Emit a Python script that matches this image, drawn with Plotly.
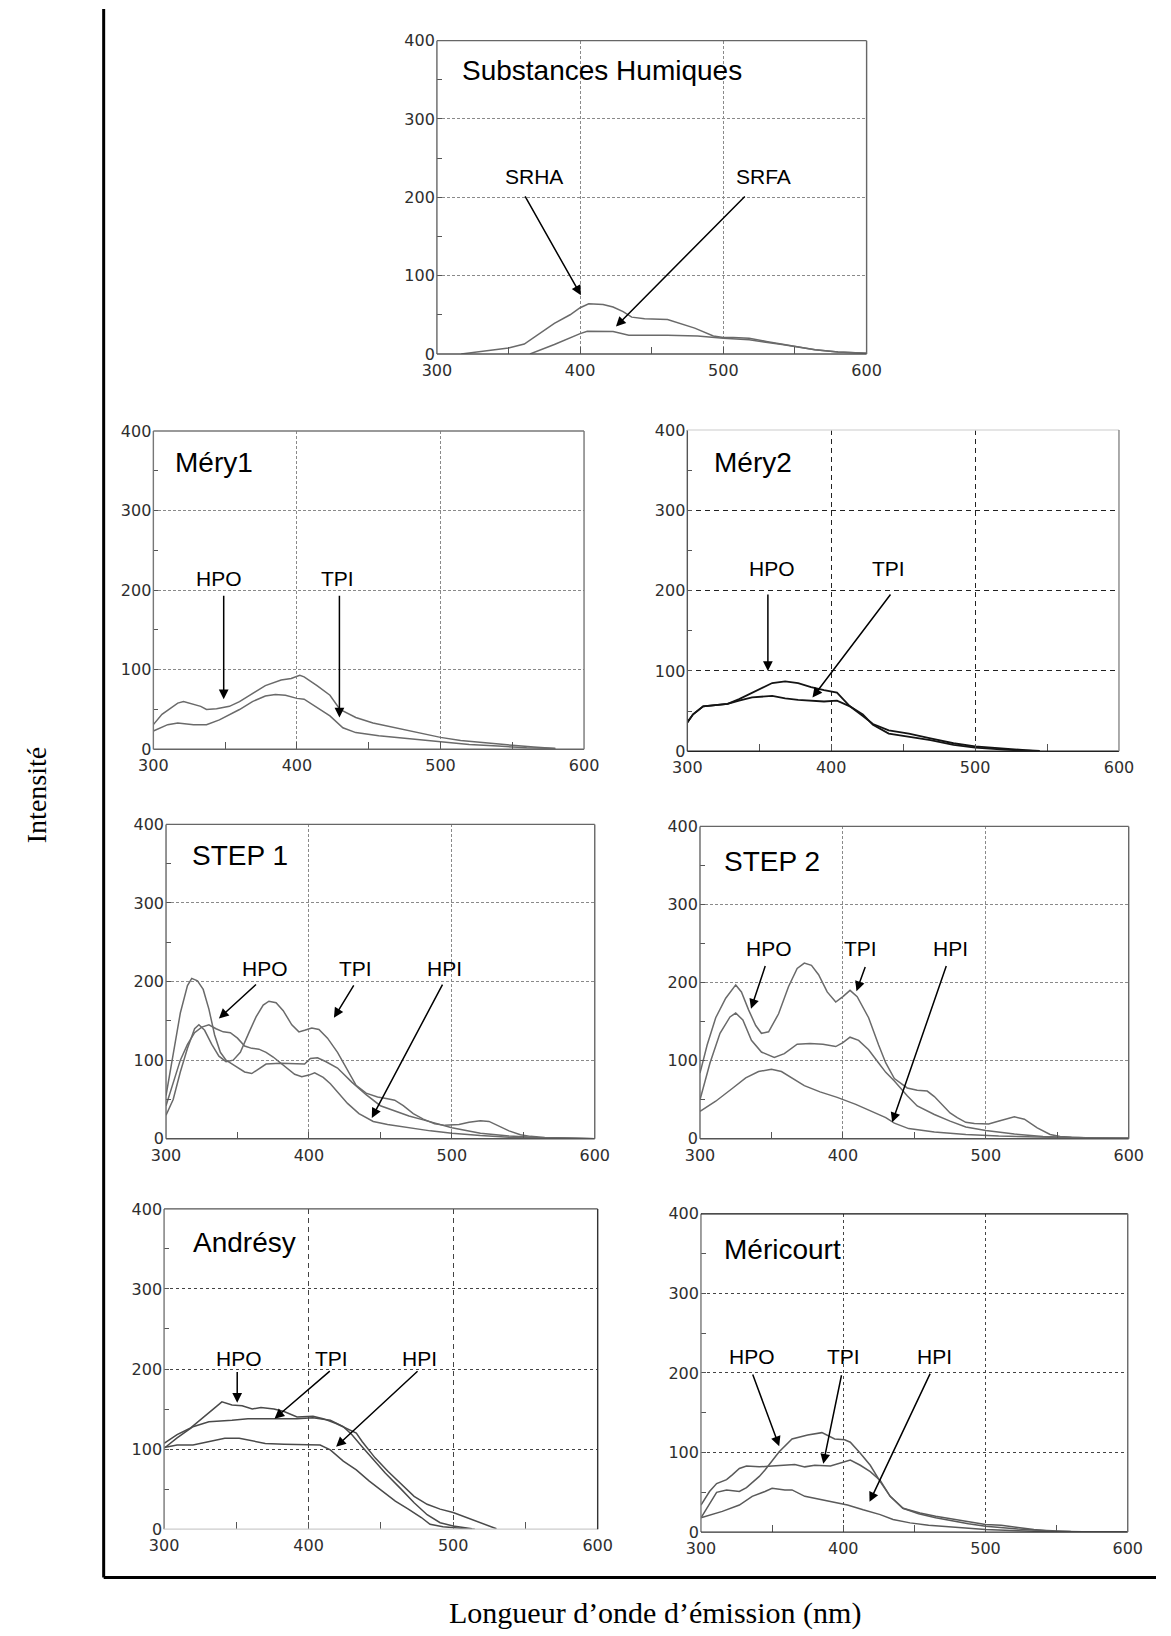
import plotly.graph_objects as go

W, H = 1171, 1636

# ---------------- DATA ----------------
# Substances Humiques
wl_sh_srha = [317, 330, 350, 361, 370, 382, 393, 400, 406, 416, 423, 430, 436, 445, 461, 470, 480, 493, 500, 507, 518, 530, 548, 564, 580, 600]
in_sh_srha = [0, 3, 7.5, 12.6, 24, 39, 50, 59, 64, 63, 60, 54, 47, 45, 44, 39, 33, 23, 21, 21, 20, 16, 10, 5.5, 2.5, 1]
wl_sh_srfa = [365, 382, 400, 405, 423, 434, 461, 482, 500, 518, 541, 564, 580, 600]
in_sh_srfa = [0, 12, 26, 29, 28.5, 24, 24, 23, 20, 18, 12, 5.5, 2.5, 1]

# Méry1
wl_m1_hpo = [300, 306, 317, 321, 333, 337, 344, 353, 360, 367, 378, 389, 396, 402, 405, 414, 423, 430, 441, 453, 469, 491, 500, 514, 530, 550, 565, 580]
in_m1_hpo = [31, 44, 58, 60, 54, 50, 51, 54, 60, 68, 80, 87, 89, 93, 91, 80, 68, 50, 40, 33, 27, 19, 15, 11, 8, 5, 3, 1]
wl_m1_tpi = [300, 310, 317, 328, 337, 346, 360, 369, 378, 385, 392, 400, 405, 414, 423, 432, 441, 457, 480, 500, 520, 540, 560, 580]
in_m1_tpi = [23, 31, 33, 31, 31, 37, 50, 60, 67, 69, 68, 64, 63, 52, 42, 27, 21, 17, 13, 9, 6, 4, 2, 1]

# Méry2
wl_m2_hpo = [300, 304, 311, 320, 328, 336, 345, 359, 368, 377, 386, 395, 404, 413, 422, 429, 440, 454, 469, 485, 500, 520, 535, 545]
in_m2_hpo = [36, 46, 56, 58, 59, 65, 73, 85, 87, 85, 80, 76, 73, 56, 44, 34, 26, 22, 16, 10, 6, 3, 1.5, 0.5]
wl_m2_tpi = [300, 304, 311, 320, 328, 336, 345, 359, 368, 377, 386, 395, 404, 413, 422, 429, 440, 454, 469, 485, 500, 520, 540]
in_m2_tpi = [36, 46, 56, 58, 59, 63, 67, 69, 66, 64, 63, 62, 63, 56, 46, 33, 22, 18, 14, 8, 4.5, 2, 0.5]

# STEP 1
wl_s1_hpo = [300, 305, 310, 315, 318, 322, 326, 330, 334, 338, 342, 348, 355, 360, 365, 370, 380, 390, 397, 401, 406, 412, 420, 430, 440, 450, 460, 470, 480, 490, 500, 520, 540, 560, 580, 600]
in_s1_hpo = [55, 105, 160, 195, 204, 201, 190, 165, 132, 110, 100, 93, 85, 83, 89, 95, 96, 95, 95, 102, 103, 98, 90, 72, 56, 42, 35, 29, 24, 19, 14, 7, 3.5, 1.5, 0.5, 0]
wl_s1_tpi = [300, 305, 310, 315, 320, 323, 327, 332, 337, 342, 347, 352, 358, 363, 368, 372, 377, 382, 388, 393, 397, 402, 407, 413, 420, 427, 433, 440, 448, 455, 460, 466, 473, 480, 488, 495, 505, 512, 520, 526, 532, 540, 548, 555, 565, 580, 600]
in_s1_tpi = [30, 50, 85, 115, 140, 145, 138, 120, 105, 98, 100, 110, 135, 155, 170, 175, 173, 163, 145, 136, 138, 141, 139, 128, 110, 88, 68, 58, 53, 51, 49, 42, 32, 25, 19, 17, 18, 21, 23, 22, 17, 10, 5, 3, 1.5, 0.5, 0]
wl_s1_hpi = [300, 305, 310, 315, 320, 325, 330, 335, 340, 345, 350, 355, 360, 365, 370, 375, 380, 385, 390, 395, 400, 404, 410, 415, 420, 427, 435, 445, 455, 470, 485, 500, 520, 540, 560, 600]
in_s1_hpi = [42, 70, 100, 120, 135, 142, 145, 140, 136, 135, 128, 118, 115, 114, 110, 104, 97, 90, 82, 79, 81, 84, 78, 70, 60, 45, 32, 22, 18, 14, 10, 7, 4, 2, 1, 0]

# STEP 2
wl_s2_hpo = [300, 305, 311, 318, 325, 329, 334, 339, 343, 348, 355, 362, 368, 373, 378, 383, 389, 395, 400, 405, 410, 418, 425, 430, 436, 445, 452, 459, 464, 470, 475, 480, 486, 492, 498, 502, 508, 514, 520, 527, 532, 536, 545, 552, 560, 575, 600]
in_s2_hpo = [84, 120, 155, 180, 197, 188, 165, 145, 135, 137, 160, 195, 218, 225, 222, 210, 188, 175, 182, 190, 182, 155, 120, 97, 77, 65, 62, 61, 54, 42, 33, 27, 21, 19.5, 19, 19, 22, 25, 28, 25, 19, 14, 5.5, 3, 2, 1, 0.5]
wl_s2_tpi = [300, 307, 314, 321, 325, 330, 336, 343, 352, 359, 368, 377, 386, 395, 400, 405, 411, 418, 425, 430, 436, 445, 452, 464, 475, 486, 500, 520, 540, 560, 580, 600]
in_s2_tpi = [50, 97, 135, 156, 161, 152, 126, 111, 104, 109, 121, 122, 121, 118, 123, 130, 126, 114, 97, 85, 74, 55, 42, 31, 22.5, 15, 10.6, 6, 3, 1.5, 0.5, 0]
wl_s2_hpi = [300, 311, 323, 332, 341, 350, 357, 366, 373, 384, 396, 409, 418, 430, 436, 446, 464, 486, 509, 532, 560, 600]
in_s2_hpi = [35, 48, 65, 78, 86, 89, 86, 76, 68, 60, 53, 44, 37, 27, 20, 13, 8.5, 5.5, 3.4, 2, 1.2, 0.8]

# Andrésy
wl_an_hpo = [300, 309, 318, 325, 334, 340, 347, 354, 361, 367, 376, 383, 392, 403, 410, 419, 428, 433, 437, 446, 455, 464, 473, 482, 491, 500, 509, 518, 530]
in_an_hpo = [107, 118, 126, 136, 150, 159, 155, 154, 150, 152, 150, 147, 140, 141, 138, 132, 124, 120, 109.5, 89, 72, 56, 41, 31, 25, 20.7, 14.5, 9, 0.5]
wl_an_tpi = [300, 309, 320, 331, 347, 358, 376, 392, 403, 415, 424, 430, 437, 444, 453, 464, 473, 482, 491, 500, 513]
in_an_tpi = [101, 114, 128, 134, 136, 138, 138, 138, 139, 136, 128, 118, 103, 88, 70, 50, 33, 18, 8, 4, 0.5]
wl_an_hpi = [300, 309, 320, 331, 342, 352, 361, 370, 383, 399, 408, 415, 424, 433, 442, 451, 460, 469, 478, 484, 493, 505, 515]
in_an_hpi = [102, 105, 105, 109.5, 113.6, 113.6, 110, 107, 106, 105, 105, 99, 85, 74, 60, 47.5, 35, 25, 14.5, 6, 3, 1, 0]

# Méricourt
wl_mc_hpo = [300, 305, 311, 318, 323, 327, 332, 336, 341, 345, 355, 364, 370, 375, 385, 390, 394, 401, 405, 412, 419, 426, 433, 442, 454, 465, 477, 488, 500, 511, 523, 534, 546, 560, 580, 600]
in_mc_hpo = [18, 33, 50, 53, 52, 51, 56, 62, 70, 78, 101, 117, 120, 122, 125, 121, 117, 116, 113, 99, 84, 63.5, 45, 30, 24, 20, 16.6, 13, 9.5, 8.7, 5.4, 3.3, 1.2, 0.5, 0.2, 0]
wl_mc_tpi = [300, 306, 311, 318, 322, 327, 332, 341, 350, 359, 366, 373, 380, 391, 401, 405, 412, 419, 426, 433, 442, 453, 465, 476, 488, 500, 511, 523, 534, 546, 560, 580, 600]
in_mc_tpi = [34, 51, 61, 66, 72, 80, 83, 82, 83, 84, 85, 82, 84, 83, 88, 90.5, 84, 76, 65, 45, 30, 23, 18, 14, 10.5, 7.5, 5.5, 3.8, 2.5, 1.2, 0.6, 0.2, 0]
wl_mc_hpi = [300, 315, 327, 336, 345, 350, 359, 364, 373, 385, 396, 403, 414, 426, 435, 447, 460, 477, 500, 523, 546, 570, 600]
in_mc_hpi = [18, 26, 34, 45, 51, 55, 53, 53, 45, 40.6, 36.5, 34, 28, 22, 15.8, 11.6, 8.7, 6.2, 3.3, 1.7, 0.4, 0.2, 0]

x_ticks = [300, 400, 500, 600]
y_ticks = [0, 100, 200, 300, 400]
x_minor = [350, 450, 550]
y_minor = [50, 150, 250, 350]

# ---------------- LAYOUT / STYLE ----------------
FONT_SANS = "Arial, Liberation Sans, sans-serif"
FONT_SERIF = "Times New Roman, Liberation Serif, serif"
FONT_TICK = "DejaVu Sans, sans-serif"

# border colours: left, bottom, top, right
panels = [
    dict(px=(433, 874), py=(32, 349), title="Substances Humiques", tpos=(316, 362),
         curves=[(wl_sh_srha, in_sh_srha), (wl_sh_srfa, in_sh_srfa)],
         labels=[("SRHA", 368, 227, 361, 203, 400.5, 75), ("SRFA", 528, 227, 516, 203, 425, 35)],
         xdash="3px,2px", ydash="3px,2px", gcol="#8a8a8a", lcol="#6a6a6a", lw=1.5,
         border=("#666666", "#555555", "#666666", "#666666")),
    dict(px=(142, 584), py=(427, 749), title="Méry1", tpos=(314, 361),
         curves=[(wl_m1_hpo, in_m1_hpo), (wl_m1_tpi, in_m1_tpi)],
         labels=[("HPO", 346, 215, 349, 195, 349, 63), ("TPI", 428, 215, 429.6, 195, 429.6, 40)],
         xdash="3px,2px", ydash="3px,2px", gcol="#8a8a8a", lcol="#6a6a6a", lw=1.5,
         border=("#777777", "#666666", "#777777", "#777777")),
    dict(px=(690, 1133), py=(426, 751), title="Méry2", tpos=(317, 360),
         curves=[(wl_m2_hpo, in_m2_hpo), (wl_m2_tpi, in_m2_tpi)],
         labels=[("HPO", 359, 228, 356, 197, 356, 100), ("TPI", 440, 228, 442, 197, 387, 67)],
         xdash="5px,4px", ydash="5px,4px", gcol="#222222", lcol="#141414", lw=1.8,
         border=("#555555", "#222222", "#dddddd", "#888888")),
    dict(px=(155, 595), py=(825, 1143), title="STEP 1", tpos=(317, 360),
         curves=[(wl_s1_hpo, in_s1_hpo), (wl_s1_tpi, in_s1_tpi), (wl_s1_hpi, in_s1_hpi)],
         labels=[("HPO", 369, 216, 364, 198, 337, 153), ("TPI", 432.5, 216, 432, 197, 417.5, 154),
                 ("HPI", 495, 216, 494, 198, 444, 26.5)],
         xdash="3px,2px", ydash="3px,2px", gcol="#8a8a8a", lcol="#6a6a6a", lw=1.5,
         border=("#666666", "#555555", "#666666", "#666666")),
    dict(px=(703, 1143), py=(827, 1143), title="STEP 2", tpos=(315.5, 355),
         curves=[(wl_s2_hpo, in_s2_hpo), (wl_s2_tpi, in_s2_tpi), (wl_s2_hpi, in_s2_hpi)],
         labels=[("HPO", 348, 243, 346, 223, 335.7, 166.5), ("TPI", 412.5, 243, 416, 222, 409.5, 189),
                 ("HPI", 475.5, 243, 472.7, 223, 434.5, 21)],
         xdash="3px,2px", ydash="3px,2px", gcol="#8a8a8a", lcol="#6a6a6a", lw=1.5,
         border=("#666666", "#555555", "#666666", "#666666")),
    dict(px=(153, 598), py=(1214, 1538), title="Andrésy", tpos=(318.5, 358),
         curves=[(wl_an_hpo, in_an_hpo), (wl_an_tpi, in_an_tpi), (wl_an_hpi, in_an_hpi)],
         labels=[("HPO", 351.7, 213.6, 350.6, 198, 350.6, 158), ("TPI", 415.7, 213.6, 415.7, 199, 376.4, 138),
                 ("HPI", 477, 213.6, 476.4, 199, 419, 103)],
         xdash="5px,4px", ydash="3px,3px", gcol="#444444", lcol="#4a4a4a", lw=1.5,
         border=("#777777", "#cccccc", "#555555", "#333333")),
    dict(px=(704, 1142), py=(1219, 1541), title="Méricourt", tpos=(315, 355),
         curves=[(wl_mc_hpo, in_mc_hpo), (wl_mc_tpi, in_mc_tpi), (wl_mc_hpi, in_mc_hpi)],
         labels=[("HPO", 336, 221, 336, 200, 355, 108), ("TPI", 400, 221, 399, 199, 386, 86),
                 ("HPI", 464, 221, 461.6, 201, 418.5, 38)],
         xdash="3px,3px", ydash="3px,3px", gcol="#444444", lcol="#5a5a5a", lw=1.5,
         border=("#777777", "#333333", "#111111", "#666666")),
]

fig = go.Figure()
layout = dict(width=W, height=H, margin=dict(l=0, r=0, t=0, b=0),
              paper_bgcolor="white", plot_bgcolor="white", showlegend=False)
annotations = []
shapes = []

for i, p in enumerate(panels, start=1):
    xn = "x" if i == 1 else f"x{i}"
    yn = "y" if i == 1 else f"y{i}"
    xk = "xaxis" if i == 1 else f"xaxis{i}"
    yk = "yaxis" if i == 1 else f"yaxis{i}"
    axcol = "#555555"
    common = dict(ticks="inside", tickcolor=axcol, tickwidth=1.2,
                  showgrid=True, gridcolor=p["gcol"], gridwidth=1.1,
                  showline=False, zeroline=False, fixedrange=True,
                  tickfont=dict(family=FONT_TICK, size=16, color="#2e2e2e"))
    layout[xk] = dict(domain=[p["px"][0] / W, p["px"][1] / W], range=[300, 600],
                      anchor=yn, tickmode="array", tickvals=x_ticks, ticklen=7,
                      griddash=p["xdash"], ticklabelstandoff=5,
                      minor=dict(tickmode="array", tickvals=x_minor, ticks="inside", ticklen=7,
                                 tickcolor=axcol, showgrid=False),
                      **common)
    layout[yk] = dict(domain=[1 - p["py"][1] / H, 1 - p["py"][0] / H], range=[0, 400],
                      anchor=xn, tickmode="array", tickvals=y_ticks, ticklen=5,
                      griddash=p["ydash"], ticklabelstandoff=1,
                      minor=dict(tickmode="array", tickvals=y_minor, ticks="inside", ticklen=5,
                                 tickcolor=axcol, showgrid=False),
                      **common)
    bl, bb, bt, br = p["border"]
    xd, yd = f"{xn} domain", f"{yn} domain"
    for (x0, y0, x1, y1, c) in [(0, 0, 0, 1, bl), (0, 0, 1, 0, bb), (0, 1, 1, 1, bt), (1, 0, 1, 1, br)]:
        shapes.append(dict(type="line", xref=xd, yref=yd, x0=x0, y0=y0, x1=x1, y1=y1,
                           line=dict(color=c, width=1.4), layer="above"))
    for wl, inten in p["curves"]:
        fig.add_trace(go.Scatter(x=wl, y=inten, mode="lines", xaxis=xn, yaxis=yn,
                                 line=dict(color=p["lcol"], width=p["lw"]), hoverinfo="skip"))
    annotations.append(dict(text=p["title"], x=p["tpos"][0], y=p["tpos"][1], xref=xn, yref=yn,
                            xanchor="left", yanchor="middle", showarrow=False,
                            font=dict(family=FONT_SANS, size=28, color="black")))
    for (txt, lx, ly, ax, ay, hx, hy) in p["labels"]:
        annotations.append(dict(text=txt, x=lx, y=ly, xref=xn, yref=yn, showarrow=False,
                                xanchor="center", yanchor="middle",
                                font=dict(family=FONT_SANS, size=21, color="black")))
        annotations.append(dict(text="", x=hx, y=hy, ax=ax, ay=ay, xref=xn, yref=yn,
                                axref=xn, ayref=yn, showarrow=True, arrowhead=2,
                                arrowsize=1.3, arrowwidth=1.5, arrowcolor="black", standoff=0))

# frame lines
shapes.append(dict(type="line", xref="paper", yref="paper", x0=91 / W, x1=91 / W,
                   y0=1, y1=1 - 1587 / H, line=dict(color="black", width=3)))
shapes.append(dict(type="line", xref="paper", yref="paper", x0=91 / W, x1=1,
                   y0=1 - 1587 / H, y1=1 - 1587 / H, line=dict(color="black", width=3)))

annotations.append(dict(text="Intensité", x=22 / W, y=1 - 795 / H, xref="paper", yref="paper",
                        textangle=-90, showarrow=False, xanchor="center", yanchor="middle",
                        font=dict(family=FONT_SERIF, size=28, color="black")))
annotations.append(dict(text="Longueur d’onde d’émission (nm)", x=657 / W, y=1 - 1623 / H,
                        xref="paper", yref="paper", showarrow=False, xanchor="center",
                        yanchor="middle", font=dict(family=FONT_SERIF, size=30, color="black")))

layout["annotations"] = annotations
layout["shapes"] = shapes
fig.update_layout(**layout)

fig.write_html(
    "out.html", config={"displayModeBar": False},
    post_script=("document.documentElement.style.margin='0';"
                 "document.body.style.margin='0';document.body.style.padding='0';"
                 "document.body.style.overflow='hidden';"
                 "var d=document.getElementById('{plot_id}');"
                 "d.style.position='fixed';d.style.left='0px';d.style.top='0px';"))
